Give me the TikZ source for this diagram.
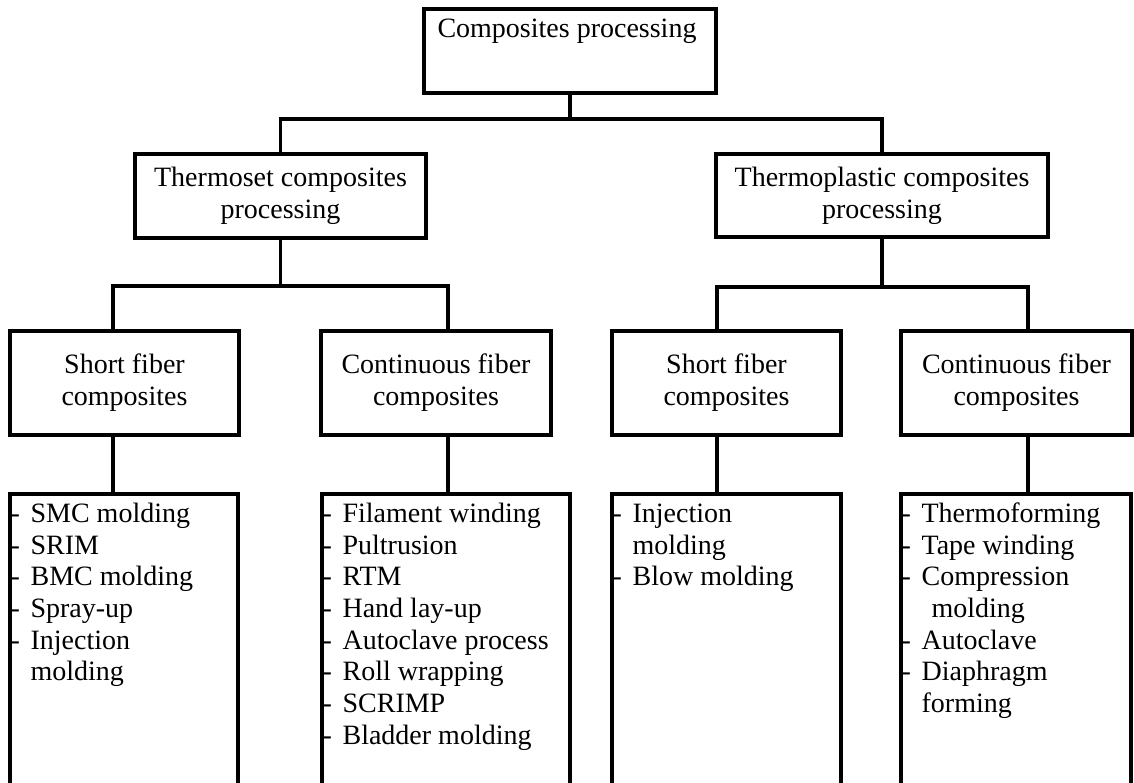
\documentclass[tikz,border=0pt]{standalone}
\usepackage{fontspec}
\setmainfont{Liberation Serif}
\newcommand{\lidash}{\makebox[20pt][l]{-}}
\newcommand{\liind}{\hspace*{20pt}}
\begin{document}
\begin{tikzpicture}[x=1pt,y=-1pt,line width=3.2pt,
  box/.style={draw=black,inner sep=0pt,align=center,font=\fontsize{28}{32}\selectfont},
  leaf/.style={draw=black,inner sep=0pt,minimum height=306pt},
  list/.style={anchor=north west,inner sep=0pt,align=left,font=\fontsize{28}{31.7}\selectfont}]
\useasboundingbox (0,0) rectangle (1134,782);
\clip (0,0) rectangle (1134,782);
\fill[white] (0,0) rectangle (1134,782);

% level 1
\node[box,minimum width=292pt,minimum height=84pt] (top) at (570,51) {};
\node[font=\fontsize{28}{32}\selectfont,anchor=base,inner sep=0pt] (toptext) at (567,37) {Composites processing};

% level 2
\node[box,minimum width=291pt,minimum height=84pt] (tset) at (280.5,196) {Thermoset composites\\processing};
\node[box,minimum width=332pt,minimum height=83pt] (tplas) at (882,195.5) {Thermoplastic composites\\processing};

% level 3
\node[box,minimum width=229pt,minimum height=104pt] (ls) at (124.5,383) {Short fiber\\composites};
\node[box,minimum width=230pt,minimum height=104pt] (lc) at (436,383) {Continuous fiber\\composites};
\node[box,minimum width=229pt,minimum height=104pt] (rs) at (726.5,383) {Short fiber\\composites};
\node[box,minimum width=231pt,minimum height=104pt] (rc) at (1016.5,383) {Continuous fiber\\composites};

% leaves
\node[leaf,minimum width=228pt] (lsl) at (124,647) {};
\node[leaf,minimum width=248pt] (lcl) at (446,647) {};
\node[leaf,minimum width=229pt] (rsl) at (726.5,647) {};
\node[leaf,minimum width=230pt] (rcl) at (1016,647) {};

\node[list] (lslt) at (9,498.6) {\strut\lidash SMC molding\\\lidash SRIM\\\lidash BMC molding\\\lidash Spray-up\\\lidash Injection\\\liind molding};
\node[list] (lclt) at (321,498.6) {\strut\lidash Filament winding\\\lidash Pultrusion\\\lidash RTM\\\lidash Hand lay-up\\\lidash Autoclave process\\\lidash Roll wrapping\\\lidash SCRIMP\\\lidash Bladder molding};
\node[list] (rslt) at (611,498.6) {\strut\lidash Injection\\\liind molding\\\lidash Blow molding};
\node[list] (rclt) at (900,498.6) {\strut\lidash Thermoforming\\\lidash Tape winding\\\lidash Compression\\\hspace*{30pt}molding\\\lidash Autoclave\\\lidash Diaphragm\\\liind forming};

% connectors
\coordinate (j0) at (570,119);
\draw (top.south) -- (j0);
\draw (tset.north) |- (j0) -| (tplas.north);

\coordinate (a1) at (113,286);
\coordinate (a2) at (448,286);
\draw (tset.south) -- (tset.south |- a1);
\draw (a1 |- ls.north) -- (a1) -- (a2) -- (a2 |- lc.north);
\draw (a1 |- ls.south) -- (a1 |- lsl.north);
\draw (a2 |- lc.south) -- (a2 |- lcl.north);

\coordinate (b1) at (717,287);
\coordinate (b2) at (1028,287);
\draw (tplas.south) -- (tplas.south |- b1);
\draw (b1 |- rs.north) -- (b1) -- (b2) -- (b2 |- rc.north);
\draw (b1 |- rs.south) -- (b1 |- rsl.north);
\draw (b2 |- rc.south) -- (b2 |- rcl.north);
\end{tikzpicture}
\end{document}
